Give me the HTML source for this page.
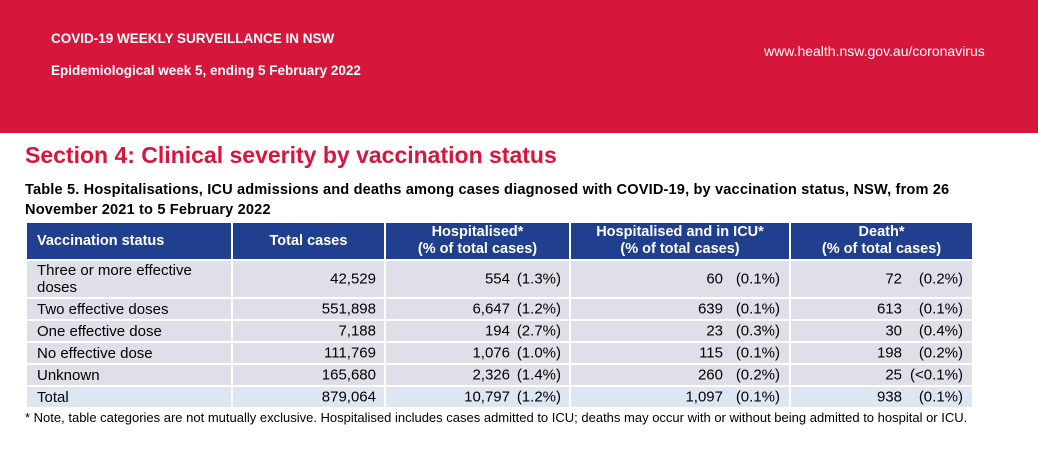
<!DOCTYPE html>
<html><head><meta charset="utf-8"><style>
body{margin:0;width:1038px;height:450px;background:#fff;font-family:"Liberation Sans",Arial,sans-serif;position:relative;overflow:hidden}
.band{position:absolute;left:0;top:0;width:1038px;height:133px;background:#d7163b}
.a{position:absolute;white-space:nowrap}
.c{position:absolute;box-sizing:border-box}
.h{background:#213f8f;color:#fff;font-weight:bold;font-size:14.5px;text-align:center;line-height:17px}
.r{background:#dfdfe9;font-size:15px;color:#000}
.t{background:#dde7f3}
.n{position:absolute;text-align:right;white-space:nowrap}
</style></head><body>
<div class="band"></div>
<div class="a" style="left:51px;top:31px;color:#fff;font-weight:bold;font-size:13.5px">COVID-19 WEEKLY SURVEILLANCE IN NSW</div>
<div class="a" style="left:51px;top:63px;color:#fff;font-weight:bold;font-size:13.5px">Epidemiological week 5, ending 5 February 2022</div>
<div class="a" style="left:764px;top:43px;color:#fff;font-size:14px">www.health.nsw.gov.au/coronavirus</div>
<div class="a" style="left:25px;top:142px;color:#d7163b;font-weight:bold;font-size:23px">Section 4: Clinical severity by vaccination status</div>
<div class="a" style="left:25px;top:180px;font-weight:bold;font-size:14.6px;line-height:20px;white-space:normal;width:1000px;letter-spacing:0.15px">Table 5. Hospitalisations, ICU admissions and deaths among cases diagnosed with COVID-19, by vaccination status, NSW, from 26 November 2021 to 5 February 2022</div>
<div id="tbl"></div>
<div class="a" style="left:25px;top:410px;font-size:13px;line-height:16px;white-space:normal;width:960px">* Note, table categories are not mutually exclusive. Hospitalised includes cases admitted to ICU; deaths may occur with or without being admitted to hospital or ICU.</div>
<script>
const cols=[[27,231],[233,384],[386,569],[571,789],[791,972]];
const rowsY=[[261,297],[299,319],[321,341],[343,363],[365,385],[387,407]];
const headers=["Vaccination status","Total cases","Hospitalised*<br>(% of total cases)","Hospitalised and in ICU*<br>(% of total cases)","Death*<br>(% of total cases)"];
const statuses=["Three or more effective<br>doses","Two effective doses","One effective dose","No effective dose","Unknown","Total"];
const totals=["42,529","551,898","7,188","111,769","165,680","879,064"];
const hosp=["554","6,647","194","1,076","2,326","10,797"];
const hospPct=["(1.3%)","(1.2%)","(2.7%)","(1.0%)","(1.4%)","(1.2%)"];
const icu=["60","639","23","115","260","1,097"];
const icuPct=["(0.1%)","(0.1%)","(0.3%)","(0.1%)","(0.2%)","(0.1%)"];
const death=["72","613","30","198","25","938"];
const deathPct=["(0.2%)","(0.1%)","(0.4%)","(0.2%)","(<0.1%)","(0.1%)"];
const T=document.getElementById('tbl');
function cell(x0,x1,y0,y1,cls,name){const d=document.createElement('div');d.className='c '+cls;d.style.left=x0+'px';d.style.top=y0+'px';d.style.width=(x1-x0)+'px';d.style.height=(y1-y0)+'px';


T.appendChild(d);return d;}
function num(parent,txt,right,name){const s=document.createElement('span');s.className='n';s.textContent=txt;s.style.right=right+'px';s.style.top='50%';s.style.transform='translateY(-50%)';


parent.appendChild(s);}
headers.forEach((h,i)=>{const d=cell(cols[i][0],cols[i][1],223,259,'h','header-'+i);d.innerHTML=h;d.style.display='flex';d.style.alignItems=i==0?'center':(i>1?'flex-start':'center');d.style.justifyContent=i==0?'flex-start':'center';d.style.paddingLeft=i==0?'10px':'0';if(i>1)d.style.paddingTop='1px';});
statuses.forEach((s,r)=>{const [y0,y1]=rowsY[r];const tc=r==5?'r t':'r';
const c0=cell(cols[0][0],cols[0][1],y0,y1,tc,'status-cell-'+r);c0.innerHTML=s;c0.style.paddingLeft='10px';c0.style.lineHeight='17px';c0.style.display='flex';c0.style.alignItems='center';
const c1=cell(cols[1][0],cols[1][1],y0,y1,tc,'total-cell-'+r);num(c1,totals[r],8,'total-value');
const c2=cell(cols[2][0],cols[2][1],y0,y1,tc,'hosp-cell-'+r);num(c2,hospPct[r],8,'hosp-pct');num(c2,hosp[r],59,'hosp-value');
const c3=cell(cols[3][0],cols[3][1],y0,y1,tc,'icu-cell-'+r);num(c3,icuPct[r],9,'icu-pct');num(c3,icu[r],66,'icu-value');
const c4=cell(cols[4][0],cols[4][1],y0,y1,tc,'death-cell-'+r);num(c4,deathPct[r],9,'death-pct');num(c4,death[r],70,'death-value');});
</script>
</body></html>
